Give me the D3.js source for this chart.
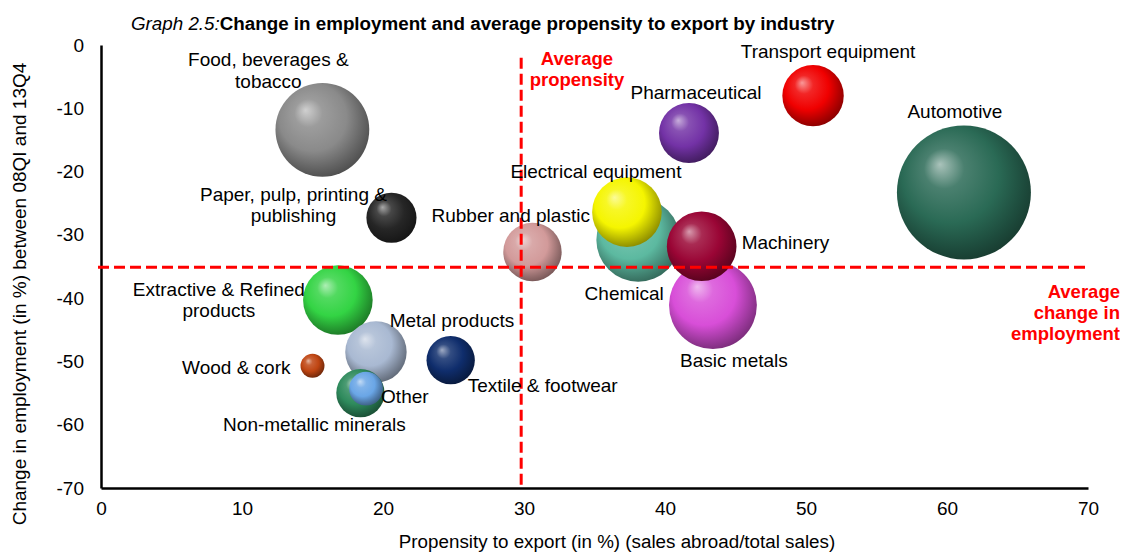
<!DOCTYPE html>
<html>
<head>
<meta charset="utf-8">
<script src="https://cdn.jsdelivr.net/npm/d3@7"></script>
<style>
  body { margin: 0; background: #fff; }
  svg { font-family: "Liberation Sans", Arial, sans-serif; }
</style>
</head>
<body>
<div id="chart"></div>
<script>
// industries, drawn in this order
var industries = ["Food, beverages & tobacco", "Paper, pulp, printing & publishing", "Rubber and plastic",
    "Chemical", "Electrical equipment", "Basic metals", "Machinery", "Pharmaceutical",
    "Transport equipment", "Automotive", "Extractive & Refined products", "Metal products",
    "Wood & cork", "Non-metallic minerals", "Other", "Textile & footwear"];
// propensity to export (in %)
var propensity = [15.7, 20.6, 30.6, 38.1, 37.3, 43.4, 42.6, 41.7, 50.5, 61.2, 16.8, 19.5, 15.0, 18.4, 18.8, 24.8];
// change in employment (in %) between 08QI and 13Q4
var employment = [-13.4, -27.3, -32.7, -30.8, -26.4, -41.1, -31.8, -13.9, -8.0, -23.3, -40.3, -48.5, -50.7, -55.0, -54.3, -49.8];
// bubble size
var bubbleSize = [49, 14, 19, 39, 27, 43, 27, 20, 21, 100, 27, 21, 3.2, 13, 6.4, 13];
var bubbleColors = ["#8a8a8a", "#262626", "#d29a9a", "#5cb9a0", "#f5f500", "#d84ed8", "#9a0535", "#7332a6",
    "#f00000", "#2a6a55", "#33d444", "#a9b9d2", "#bf4512", "#2e8a5c", "#6aa6e6", "#0f2d6c"];

var avgPropensity = 29.8;
var avgEmployment = -35.1;
var xTicks = [0, 10, 20, 30, 40, 50, 60, 70];
var yTicks = [0, -10, -20, -30, -40, -50, -60, -70];

// label text lines and placement relative to bubble centre (px)
var labelLines = [
    ["Food, beverages &", "tobacco"], ["Paper, pulp, printing &", "publishing"], ["Rubber and plastic"],
    ["Chemical"], ["Electrical equipment"], ["Basic metals"], ["Machinery"], ["Pharmaceutical"],
    ["Transport equipment"], ["Automotive"], ["Extractive & Refined", "products"], ["Metal products"],
    ["Wood & cork"], ["Non-metallic minerals"], ["Other"], ["Textile & footwear"]
];
var labelPos = [
    {dx: -54, dy: [-64, -42], a: "middle"}, {dx: -98, dy: [-17, 4], a: "middle"}, {dx: -101, dy: [-30], a: "start"},
    {dx: -14, dy: [60], a: "middle"}, {dx: -31, dy: [-34], a: "middle"}, {dx: 21, dy: [62], a: "middle"},
    {dx: 40, dy: [3], a: "start"}, {dx: 7, dy: [-34], a: "middle"}, {dx: 15, dy: [-38], a: "middle"},
    {dx: -9, dy: [-74], a: "middle"}, {dx: -119, dy: [-4, 17], a: "middle"}, {dx: 76, dy: [-25], a: "middle"},
    {dx: -22, dy: [8], a: "end"}, {dx: -46, dy: [38], a: "middle"}, {dx: 15, dy: [14], a: "start"},
    {dx: 17, dy: [32], a: "start"}
];

var W = 1124, H = 554;
var margin = {top: 45, right: 36, bottom: 66, left: 101};

var svg = d3.select("#chart").append("svg")
    .attr("width", W)
    .attr("height", H);

var x = d3.scaleLinear().domain([0, 70]).range([margin.left, W - margin.right]);
var y = d3.scaleLinear().domain([-70, 0]).range([H - margin.bottom, margin.top]);
var r = d3.scaleSqrt().domain([0, 100]).range([0, 67]);

var data = industries.map(function(d, i) {
    return {name: d, x: propensity[i], y: employment[i], size: bubbleSize[i], color: bubbleColors[i], i: i};
});

// sphere gradients
var defs = svg.append("defs");
data.forEach(function(d) {
    var c = d3.color(d.color);
    var g = defs.append("radialGradient")
        .attr("id", "grad" + d.i)
        .attr("cx", "45%").attr("cy", "42%").attr("r", "60%")
        .attr("fx", "32%").attr("fy", "29%");
    g.append("stop").attr("offset", "0%").attr("stop-color", d3.interpolateRgb(d.color, "#ffffff")(0.6));
    g.append("stop").attr("offset", "25%").attr("stop-color", d3.interpolateRgb(d.color, "#ffffff")(0.15));
    g.append("stop").attr("offset", "60%").attr("stop-color", d.color);
    g.append("stop").attr("offset", "85%").attr("stop-color", c.darker(0.9));
    g.append("stop").attr("offset", "100%").attr("stop-color", c.darker(1.6));
});

// title
var title = svg.append("text")
    .attr("x", 131).attr("y", 30)
    .style("font-size", "18.8px");
title.append("tspan").style("font-style", "italic").text("Graph 2.5:");
title.append("tspan").style("font-weight", "bold").text("Change in employment and average propensity to export by industry");

// axes
var xAxis = svg.append("g")
    .attr("transform", "translate(0," + y(-70) + ")")
    .call(d3.axisBottom(x).tickValues(xTicks).tickFormat(function(d) { return String(d); })
        .tickSize(0).tickPadding(14).tickSizeOuter(0));
var yAxis = svg.append("g")
    .attr("transform", "translate(" + x(0) + ",0)")
    .call(d3.axisLeft(y).tickValues(yTicks).tickFormat(function(d) { return String(d); })
        .tickSize(0).tickPadding(17).tickSizeOuter(0));
[xAxis, yAxis].forEach(function(a) {
    a.select(".domain").attr("stroke", "#000").attr("stroke-width", 2.5);
    a.selectAll("text").style("font-size", "19px").attr("fill", "#000")
        .style("font-family", "'Liberation Sans', Arial, sans-serif");
});

svg.append("text")
    .attr("transform", "translate(26," + 294 + ") rotate(-90)")
    .attr("text-anchor", "middle")
    .style("font-size", "19px")
    .text("Change in employment (in %) between 08QI and 13Q4");

svg.append("text")
    .attr("x", 617).attr("y", 548)
    .attr("text-anchor", "middle")
    .style("font-size", "18.8px")
    .text("Propensity to export (in %) (sales abroad/total sales)");

// bubbles
svg.append("g").selectAll("circle")
    .data(data)
    .enter().append("circle")
    .attr("cx", function(d) { return x(d.x); })
    .attr("cy", function(d) { return y(d.y); })
    .attr("r", function(d) { return r(d.size); })
    .attr("fill", function(d) { return "url(#grad" + d.i + ")"; });

// average lines
svg.append("line")
    .attr("x1", x(avgPropensity)).attr("x2", x(avgPropensity))
    .attr("y1", y(-2)).attr("y2", y(-70))
    .attr("stroke", "#ff0000").attr("stroke-width", 3).attr("stroke-dasharray", "11,5");
svg.append("line")
    .attr("x1", x(0) - 3).attr("x2", x(70))
    .attr("y1", y(avgEmployment)).attr("y2", y(avgEmployment))
    .attr("stroke", "#ff0000").attr("stroke-width", 3).attr("stroke-dasharray", "11,5");

// bubble labels
var labels = svg.append("g").style("font-size", "19px");
data.forEach(function(d) {
    var p = labelPos[d.i];
    labelLines[d.i].forEach(function(line, k) {
        labels.append("text")
            .attr("x", x(d.x) + p.dx)
            .attr("y", y(d.y) + p.dy[k])
            .attr("text-anchor", p.a)
            .text(line);
    });
});

// average annotations
var red = svg.append("g")
    .attr("fill", "#ff0000")
    .style("font-size", "18.5px")
    .style("font-weight", "bold");
red.append("text").attr("x", 577).attr("y", 65).attr("text-anchor", "middle").text("Average");
red.append("text").attr("x", 577).attr("y", 86).attr("text-anchor", "middle").text("propensity");
red.append("text").attr("x", 1120).attr("y", 298).attr("text-anchor", "end").text("Average");
red.append("text").attr("x", 1120).attr("y", 319).attr("text-anchor", "end").text("change in");
red.append("text").attr("x", 1120).attr("y", 340).attr("text-anchor", "end").text("employment");
</script>
</body>
</html>
